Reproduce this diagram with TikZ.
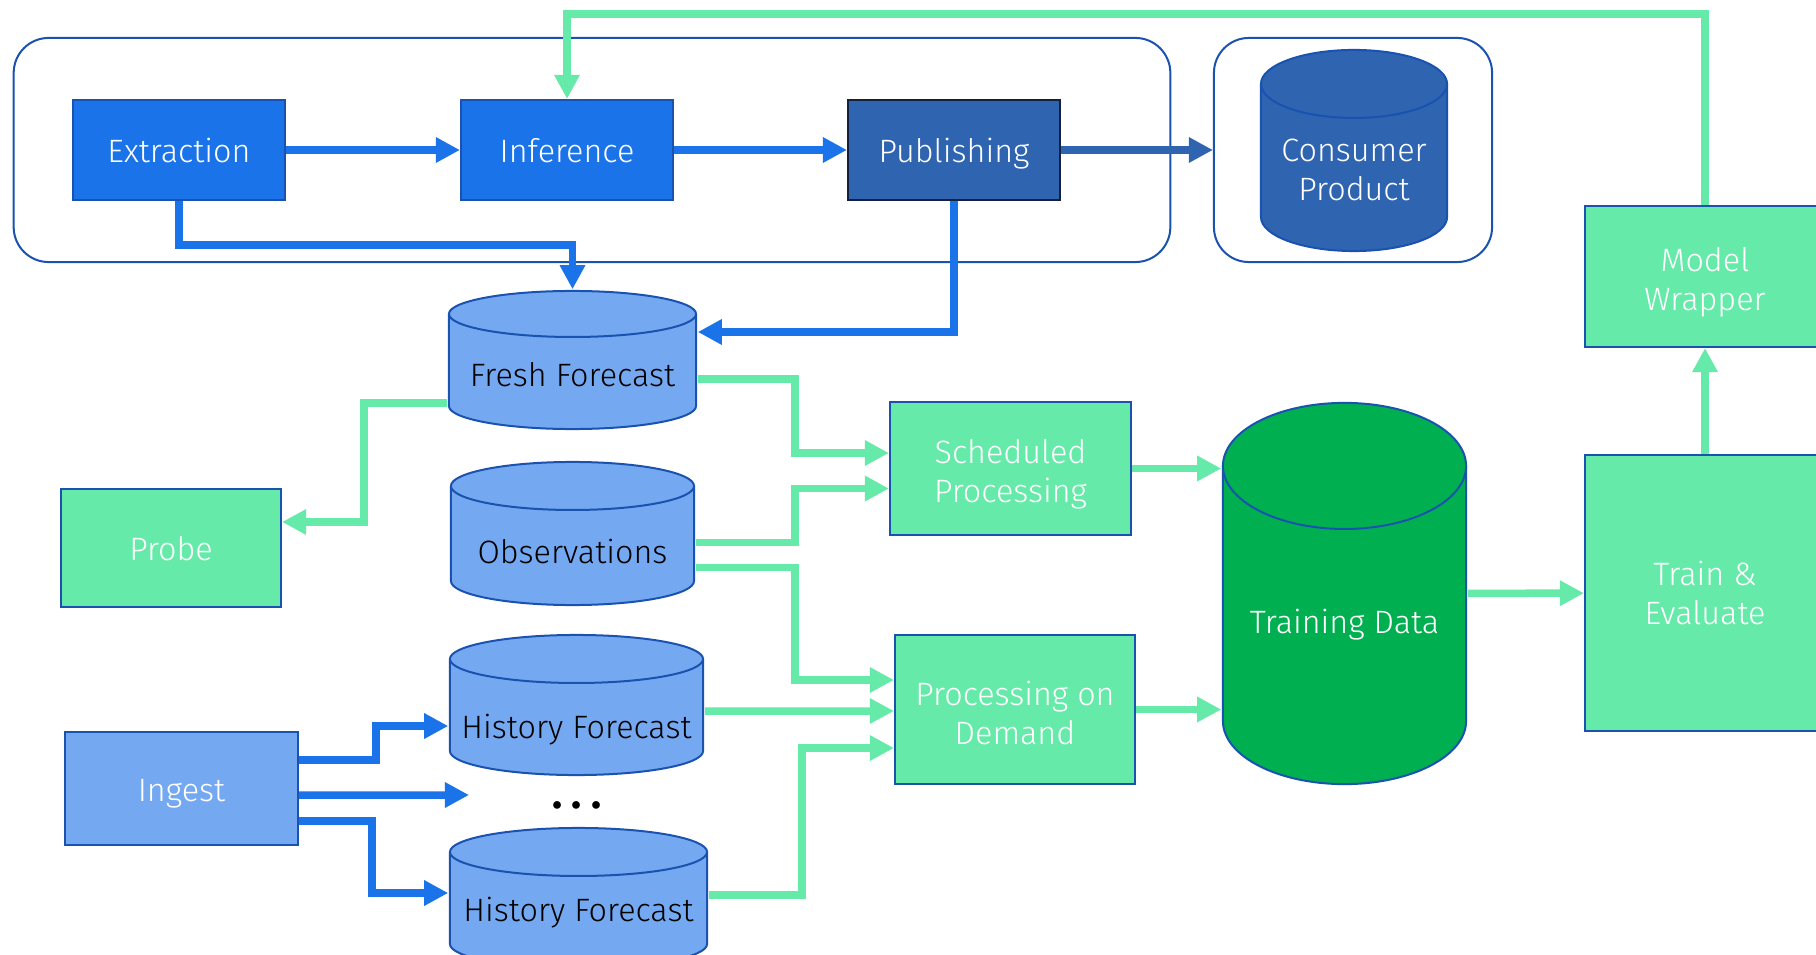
\documentclass[tikz,border=0pt]{standalone}
\usepackage{fontspec}
\setmainfont{Fira Sans}[UprightFont=* Light, BoldFont=* Bold]
\usepackage{tikz}
\usetikzlibrary{arrows.meta,positioning}

\definecolor{extblue}{HTML}{1A73E8}
\definecolor{edgeblue}{HTML}{1A52B0}
\definecolor{pubblue}{HTML}{2E64B0}
\definecolor{pubedge}{HTML}{14213D}
\definecolor{lightblue}{HTML}{74A9F1}
\definecolor{mint}{HTML}{66EAA9}
\definecolor{tdgreen}{HTML}{00B050}

\begin{document}
\begin{tikzpicture}[
  x=0.01cm, y=-0.01cm,
  font=\fontsize{9.2}{11}\selectfont,
  block/.style={rectangle, draw=edgeblue, line width=0.02cm, align=center, text=white, inner sep=0pt},
  oneline/.style={text height=0.25cm, text depth=0pt},
  bluebox/.style={block, oneline, fill=extblue, minimum width=2.12cm, minimum height=1cm},
  mintbox/.style={block, fill=mint},
  db/.style n args={4}{rectangle, inner sep=0pt, align=center, minimum width=#2, minimum height=#3,
    path picture={
      \path[fill=#1, draw=edgeblue, line width=0.02cm]
        ([shift={(0.01cm,-#4-0.01cm)}]path picture bounding box.north west)
        -- ([shift={(0.01cm,#4+0.01cm)}]path picture bounding box.south west)
        arc[start angle=180, end angle=360, x radius=#2/2-0.01cm, y radius=#4]
        -- ([shift={(-0.01cm,-#4-0.01cm)}]path picture bounding box.north east)
        arc[start angle=0, end angle=180, x radius=#2/2-0.01cm, y radius=#4] -- cycle;
      \draw[edgeblue, line width=0.02cm]
        ([shift={(0.01cm,-#4-0.01cm)}]path picture bounding box.north west)
        arc[start angle=180, end angle=360, x radius=#2/2-0.01cm, y radius=#4];
    }},
  dbtext/.style={text height=#1, text depth=0pt},
  panel/.style={rectangle, rounded corners=0.35cm, draw=edgeblue, line width=0.02cm},
  blueline/.style={-{Triangle[length=0.24cm,width=0.24cm]}, line width=0.075cm, extblue},
  mintline/.style={-{Triangle[length=0.24cm,width=0.24cm]}, line width=0.075cm, mint}
]
\useasboundingbox (0,0) rectangle (1816,955);

% Forecast pipeline (top row)
\node[panel, minimum width=11.56cm, minimum height=2.24cm] (pipe) at (592,150) {};
\node[bluebox] (extr) at (179,150) {Extraction};
\node[bluebox] (infer) at (567,150) {Inference};
\node[bluebox, fill=pubblue, draw=pubedge] (pub) at (954,150) {Publishing};
\node[panel, minimum width=2.78cm, minimum height=2.24cm] (shelf) at (1353,150) {};
\node[db={pubblue}{1.88cm}{2.03cm}{0.34cm}, text=white] (consumer) at (1354,150.5) {\rule{0pt}{0.62cm}Consumer\\Product};

% Stores
\node[db={lightblue}{2.49cm}{1.40cm}{0.23cm}, dbtext=0.52cm] (fresh) at (572.5,360) {Fresh Forecast};
\node[db={lightblue}{2.45cm}{1.45cm}{0.24cm}, dbtext=0.59cm] (obs) at (572.5,533.5) {Observations};
\node[db={lightblue}{2.55cm}{1.42cm}{0.24cm}, dbtext=0.66cm] (hist1) at (576.5,705) {History Forecast};
\node[db={lightblue}{2.59cm}{1.42cm}{0.24cm}, dbtext=0.46cm] (hist2) at (578.5,898) {History Forecast};
\node[font=\fontsize{12}{12}\selectfont\bfseries, text depth=0pt] (dots) at (577,805) {.\hspace{0.095cm}.\hspace{0.095cm}.};

% Processing and training
\node[mintbox, oneline, minimum width=2.2cm, minimum height=1.18cm] (probe) at (171,548) {Probe};
\node[block, oneline, fill=lightblue, minimum width=2.33cm, minimum height=1.13cm] (ingest) at (181.5,788.5) {Ingest};
\node[mintbox, minimum width=2.41cm, minimum height=1.33cm] (sched) at (1010.5,468.5) {\rule{0pt}{0.36cm}Scheduled\\Processing};
\node[mintbox, minimum width=2.40cm, minimum height=1.49cm] (demand) at (1015,709.5) {\rule{0pt}{0.31cm}Processing on\\Demand};
\node[db={tdgreen}{2.45cm}{3.83cm}{0.63cm}, text=white, dbtext=0.80cm] (td) at (1344.5,593.5) {Training Data};
\node[mintbox, minimum width=2.40cm, minimum height=1.41cm] (wrap) at (1705,276.5) {\rule{0pt}{0.36cm}Model\\Wrapper};
\node[mintbox, minimum width=2.40cm, minimum height=2.76cm] (train) at (1705,593) {Train \&\\Evaluate};

\coordinate (loop) at (1705,14);
\coordinate (pubbend) at (954,332);
\coordinate (ingdots) at (469,795);

% Blue arrows
\draw[blueline] (extr) -- (infer);
\draw[blueline] (infer) -- (pub);
\draw[blueline, pubblue] (pub) -- (shelf);
\draw[blueline] (extr.south) -- ++(0,44) -| (fresh.north);
\draw[blueline] (pub.south) -- (pubbend) -- (pubbend -| fresh.east);
\draw[blueline] ([yshift=0.285cm]ingest.east) -- ++(77,0) |- ([yshift=-0.21cm]hist1.west);
\draw[blueline] ([yshift=-0.065cm]ingest.east) -- (ingdots);
\draw[blueline] ([yshift=-0.325cm]ingest.east) -- ++(73,0) |- ([yshift=0.05cm]hist2.west);

% Green arrows
\draw[mintline] ([yshift=-0.43cm]fresh.west) -- ++(-83,0) |- ([yshift=0.26cm]probe.east);
\draw[mintline] ([yshift=-0.19cm]fresh.east) -- ++(97,0) |- ([yshift=0.155cm]sched.west);
\draw[mintline] ([yshift=-0.09cm]obs.east) -- ++(99,0) |- ([yshift=-0.2cm]sched.west);
\draw[mintline] ([yshift=-0.34cm]obs.east) -- ++(99,0) |- ([yshift=0.295cm]demand.west);
\draw[mintline] ([yshift=-0.06cm]hist1.east) -- ([yshift=-0.015cm]demand.west);
\draw[mintline] ([yshift=0.03cm]hist2.east) -- ++(93,0) |- ([yshift=-0.385cm]demand.west);
\draw[mintline] (sched) -- (sched -| td.west);
\draw[mintline] (demand) -- (demand -| td.west);
\draw[mintline] (td) -- (train);
\draw[mintline] (train) -- (wrap);
\draw[mintline] (wrap.north) -- (loop) -| (infer.north);
\end{tikzpicture}
\end{document}
